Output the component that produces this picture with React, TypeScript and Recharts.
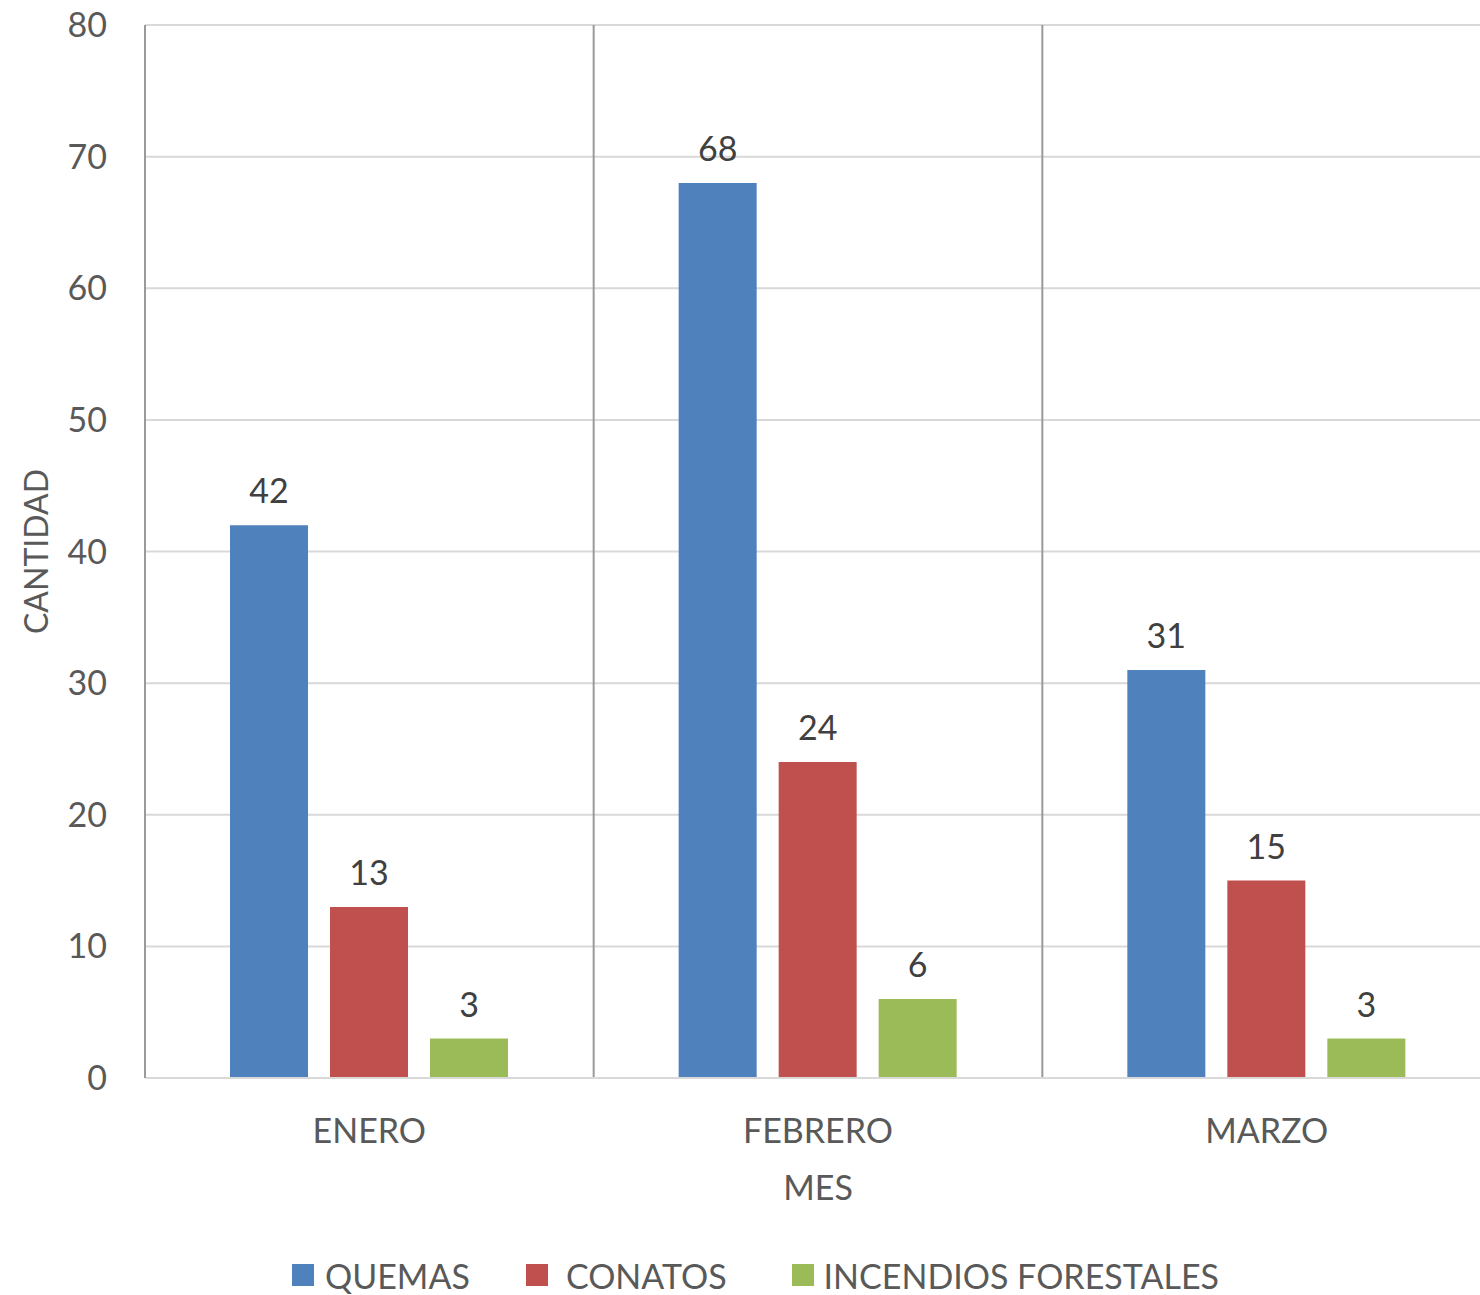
import React from 'react';
import {
  BarChart,
  Bar,
  XAxis,
  YAxis,
  CartesianGrid,
  Legend,
  LabelList,
} from 'recharts';

const months = ['ENERO', 'FEBRERO', 'MARZO'];
const quemas = [42, 68, 31];
const conatos = [13, 24, 15];
const incendios = [3, 6, 3];
const yTicks = [0, 10, 20, 30, 40, 50, 60, 70, 80];

const seriesInfo = [
  { key: 'quemas', name: 'QUEMAS', color: '#4f81bd' },
  { key: 'conatos', name: 'CONATOS', color: '#c0504d' },
  { key: 'incendios', name: 'INCENDIOS FORESTALES', color: '#9bbb59' },
];

// spacing of the legend entries, as in the original
const legendGaps = [
  { icon: 11, after: 56 },
  { icon: 18, after: 65 },
  { icon: 10, after: 0 },
];

const data = months.map((m, i) => ({
  mes: m,
  quemas: quemas[i],
  conatos: conatos[i],
  incendios: incendios[i],
}));

const FONT = 'Lato, "Open Sans", sans-serif';

const LegendContent = () => (
  <div
    style={{
      display: 'flex',
      justifyContent: 'center',
      alignItems: 'center',
      height: 40,
      paddingLeft: 20,
      fontFamily: FONT,
      fontSize: 34,
      color: '#595959',
    }}
  >
    {seriesInfo.map((s, i) => (
      <div
        key={s.key}
        style={{ display: 'flex', alignItems: 'center', marginRight: legendGaps[i].after }}
      >
        <span
          style={{
            display: 'inline-block',
            width: 22,
            height: 22,
            background: s.color,
            marginRight: legendGaps[i].icon,
          }}
        />
        <span>{s.name}</span>
      </div>
    ))}
  </div>
);

export default function App() {
  return (
    <div style={{ position: 'absolute', left: 0, top: 0, background: '#fff' }}>
      <BarChart
        width={1480}
        height={1295}
        data={data}
        margin={{ top: 25, right: -11, left: 0, bottom: 0 }}
        barSize={78}
        barGap={22}
      >
        <CartesianGrid horizontal vertical={false} stroke="#d9d9d9" strokeWidth={2} />
        <CartesianGrid
          horizontal={false}
          vertical
          stroke="#9a9a9a"
          strokeWidth={2}
          verticalCoordinatesGenerator={({ offset }: any) => [
            offset.left + offset.width / 3,
            offset.left + (2 * offset.width) / 3,
          ]}
        />
        <XAxis
          dataKey="mes"
          axisLine={{ stroke: '#d9d9d9', strokeWidth: 2 }}
          tickLine={false}
          tickSize={0}
          tickMargin={41}
          height={177}
          tick={{ fill: '#595959', fontSize: 34, fontFamily: FONT }}
          label={{
            value: 'MES',
            position: 'insideBottom',
            offset: 55,
            fill: '#595959',
            fontSize: 34,
            fontFamily: FONT,
          }}
        />
        <YAxis
          domain={[0, 80]}
          ticks={yTicks}
          width={145}
          axisLine={{ stroke: '#9a9a9a', strokeWidth: 2 }}
          tickLine={false}
          tickSize={0}
          tickMargin={38}
          tick={{ fill: '#595959', fontSize: 34, fontFamily: FONT }}
          label={{
            value: 'CANTIDAD',
            angle: -90,
            position: 'insideLeft',
            offset: 37,
            fill: '#595959',
            fontSize: 32,
            fontFamily: FONT,
            style: { textAnchor: 'middle' },
          }}
        />
        <Legend verticalAlign="bottom" content={<LegendContent />} />
        {seriesInfo.map((s) => (
          <Bar key={s.key} dataKey={s.key} name={s.name} fill={s.color} isAnimationActive={false}>
            <LabelList
              dataKey={s.key}
              position="top"
              offset={22}
              fill="#404040"
              fontSize={34}
              fontFamily={FONT}
            />
          </Bar>
        ))}
      </BarChart>
    </div>
  );
}
